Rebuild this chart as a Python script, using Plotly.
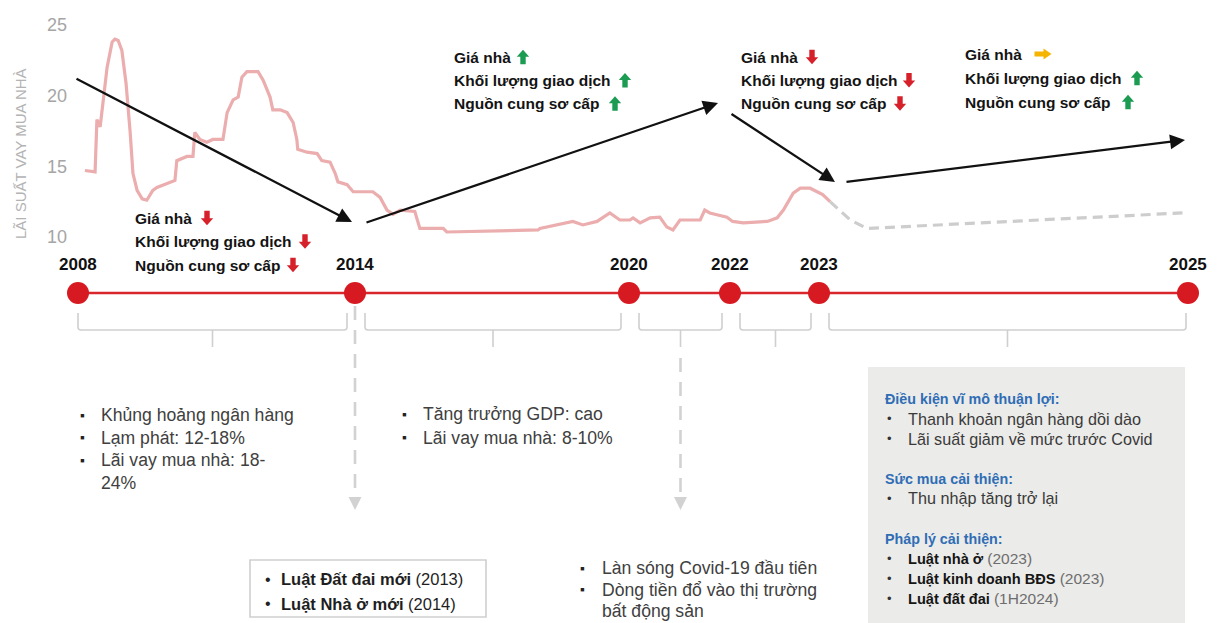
import numpy as np
import plotly.graph_objects as go

# ---------------------------------------------------------------- data
# milestone years on the timeline
YEARS = [2008, 2014, 2020, 2022, 2023, 2025]

# mortgage lending rate (%), history
RATE_YEARS = [
    2008.15, 2008.37, 2008.41, 2008.48, 2008.63, 2008.74, 2008.80, 2008.87, 2008.95,
    2009.04, 2009.13, 2009.19, 2009.28, 2009.39, 2009.49, 2009.62, 2009.71, 2009.93,
    2010.10, 2010.14, 2010.36, 2010.49, 2010.53, 2010.64, 2010.79, 2010.92,
    2011.14, 2011.23, 2011.36, 2011.47, 2011.55, 2011.66, 2011.90,
    2012.01, 2012.16, 2012.22, 2012.38, 2012.53, 2012.66, 2012.74, 2012.76, 2012.96,
    2013.18, 2013.28, 2013.46, 2013.57, 2013.63, 2013.83, 2013.96,
    2014.39, 2014.55, 2014.70, 2014.83, 2014.99, 2015.31, 2015.42, 2015.93, 2016.01,
    2017.00, 2018.01, 2018.05, 2018.64, 2018.77, 2018.99, 2019.30, 2019.58, 2019.80,
    2020.02, 2020.08, 2020.22, 2020.42, 2020.61, 2020.75, 2020.87,
    2021.01, 2021.41, 2021.50, 2021.60, 2021.94,
    2022.03, 2022.15, 2022.42, 2022.53, 2022.60, 2022.71, 2022.79, 2022.90,
    2023.02, 2023.06,
]
RATE_VALUES = [
    14.7, 14.6, 18.3, 17.8, 22.0, 23.8, 24.0, 23.9, 23.2,
    20.9, 17.4, 14.5, 13.3, 12.7, 12.6, 13.3, 13.5, 13.8,
    14.0, 15.4, 15.7, 15.7, 17.4, 16.9, 16.7, 16.9,
    16.9, 18.8, 19.7, 19.9, 21.3, 21.7, 21.7,
    21.1, 19.9, 19.0, 19.0, 18.8, 18.1, 16.9, 16.2, 16.0,
    15.9, 15.4, 15.3, 14.5, 13.9, 13.7, 13.2,
    13.2, 12.8, 11.9, 11.6, 11.9, 11.8, 10.6, 10.6, 10.35,
    10.4, 10.5, 10.6, 11.0, 11.1, 10.85, 11.1, 11.7, 11.2,
    11.2, 11.35, 11.0, 11.35, 11.4, 10.7, 10.5,
    11.2, 11.2, 11.9, 11.7, 11.4,
    11.1, 11.0, 11.1, 11.35, 11.9, 13.1, 13.45, 13.45,
    13.0, 12.5,
]

# mortgage lending rate (%), outlook
OUTLOOK_YEARS = [2023.06, 2023.17, 2023.26, 2023.98, 2024.97]
OUTLOOK_VALUES = [12.5, 11.2, 10.6, 11.05, 11.7]

RATE_TICKS = [10, 15, 20, 25]
RATE_TITLE = "LÃI SUẤT VAY MUA NHÀ"

# market signals for each phase
SIGNAL_LABELS = ["Giá nhà", "Khối lượng giao dịch", "Nguồn cung sơ cấp"]
PHASE_SIGNALS = [
    ["down", "down", "down"],
    ["up", "up", "up"],
    ["down", "down", "down"],
    ["flat", "up", "up"],
]

# notes below the timeline
NOTES_2008 = [["Khủng hoảng ngân hàng"], ["Lạm phát: 12-18%"], ["Lãi vay mua nhà: 18-", "24%"]]
NOTES_2014 = [["Tăng trưởng GDP: cao"], ["Lãi vay mua nhà: 8-10%"]]
LAWS_2014 = [("Luật Đất đai mới", "(2013)"), ("Luật Nhà ở mới", "(2014)")]
NOTES_2020 = [["Làn sóng Covid-19 đầu tiên"], ["Dòng tiền đổ vào thị trường", "bất động sản"]]
OUTLOOK_FACTORS = [
    ("Điều kiện vĩ mô thuận lợi:", [("", "Thanh khoản ngân hàng dồi dào"),
                                   ("", "Lãi suất giảm về mức trước Covid")]),
    ("Sức mua cải thiện:", [("", "Thu nhập tăng trở lại")]),
    ("Pháp lý cải thiện:", [("Luật nhà ở", "(2023)"),
                            ("Luật kinh doanh BĐS", "(2023)"),
                            ("Luật đất đai", "(1H2024)")]),
]

# ---------------------------------------------------------------- layout
W, H = 1219, 623
TIMELINE_X = [78, 355, 629, 730, 819, 1188]   # horizontal scale of the timeline
TIMELINE_ROW = 293
RATE_TOP_ROW, RATE_PX_PER_PT = 25, 14.13      # vertical scale of the rate chart
SANS = "Liberation Sans, Arial, sans-serif"
BODY = "#404040"
RED, GREEN, YELLOW = "#d6202a", "#1c9c52", "#f4b400"
GUIDE = "#d2d2d2"


def tl(years):
    return np.interp(years, YEARS, TIMELINE_X)


fig = go.Figure()
annotations = []
shapes = []


def text(x, y, s, size=17.6, color=BODY, family=SANS, anchor="left", angle=0):
    annotations.append(dict(x=x, y=y, xref="x", yref="y2", text=s, showarrow=False,
                            xanchor=anchor, yanchor="middle", textangle=angle,
                            font=dict(family=family, size=size, color=color)))


def block_arrow(cx, cy, direction, color):
    if direction == "flat":
        L, hl, hw, sw = 17, 8, 5.5, 2.6
        x0 = cx - L / 2
        pts = [(x0, cy - sw), (x0 + L - hl, cy - sw), (x0 + L - hl, cy - hw), (x0 + L, cy),
               (x0 + L - hl, cy + hw), (x0 + L - hl, cy + sw), (x0, cy + sw)]
    else:
        L, hl, hw, sw = 14.5, 7, 6.2, 2.7
        s = 1 if direction == "down" else -1
        y0 = cy - s * L / 2
        pts = [(cx - sw, y0), (cx + sw, y0), (cx + sw, y0 + s * (L - hl)), (cx + hw, y0 + s * (L - hl)),
               (cx, y0 + s * L), (cx - hw, y0 + s * (L - hl)), (cx - sw, y0 + s * (L - hl))]
    path = "M " + " L ".join(f"{px:.1f},{py:.1f}" for px, py in pts) + " Z"
    shapes.append(dict(type="path", path=path, xref="x", yref="y2",
                       fillcolor=color, line=dict(width=0)))


# rate history and outlook
fig.add_trace(go.Scatter(x=tl(RATE_YEARS), y=RATE_VALUES, mode="lines",
                         line=dict(color="#ebadad", width=3.2), xaxis="x", yaxis="y",
                         hoverinfo="skip", showlegend=False))
fig.add_trace(go.Scatter(x=tl(OUTLOOK_YEARS), y=OUTLOOK_VALUES, mode="lines",
                         line=dict(color="#cdcdcd", width=3.2, dash="10px,6px"),
                         xaxis="x", yaxis="y", hoverinfo="skip", showlegend=False))

# timeline
fig.add_trace(go.Scatter(x=tl(YEARS), y=[TIMELINE_ROW] * len(YEARS), mode="lines+markers",
                         line=dict(color="#d9262d", width=2.4),
                         marker=dict(size=22, color="#d71a21"),
                         xaxis="x", yaxis="y2", hoverinfo="skip", showlegend=False))
for yr, x in zip(YEARS, tl(YEARS)):
    text(x, 264, f"<b>{yr}</b>", size=17, color="#111111", anchor="center")

# brackets under each period
centers = []
xs = tl(YEARS)
for i in range(len(YEARS) - 1):
    a = xs[i] + (0 if i == 0 else 10)
    b = xs[i + 1] - (2 if i == len(YEARS) - 2 else 8)
    c = (a + b) / 2
    centers.append(c)
    shapes.append(dict(type="path", xref="x", yref="y2",
                       path=f"M {a:.1f},313 L {a:.1f},327 Q {a:.1f},330 {a+3:.1f},330 "
                            f"L {b-3:.1f},330 Q {b:.1f},330 {b:.1f},327 L {b:.1f},313 "
                            f"M {c:.1f},330 L {c:.1f},347",
                       line=dict(color="#cfcfcf", width=1.6)))

# dashed guides pointing to the law box and covid notes
for gx, g0 in [(xs[1], 306), (centers[2], 358)]:
    shapes.append(dict(type="line", xref="x", yref="y2", x0=gx, x1=gx, y0=g0, y1=498,
                       line=dict(color=GUIDE, width=2.6, dash="14px,10px")))
    shapes.append(dict(type="path", xref="x", yref="y2",
                       path=f"M {gx-6.5:.1f},497 L {gx+6.5:.1f},497 L {gx:.1f},510 Z",
                       fillcolor=GUIDE, line=dict(width=0)))

# rate axis title
text(20, 154, RATE_TITLE, size=15, color="#b3b3b3", anchor="center", angle=-90)

# market signals above the chart
SIGNAL_POS = [(133, 218, 23.5), (452, 57, 23.3), (739, 57, 23.3), (963, 54, 24)]
ARROW_X = [[207, 305, 293], [523, 625, 615], [812, 909, 900], [1043, 1137, 1128]]
ARROW_COLOR = {"down": RED, "up": GREEN, "flat": YELLOW}
for (x0, y0, dy), dirs, axs in zip(SIGNAL_POS, PHASE_SIGNALS, ARROW_X):
    for k, (label, d) in enumerate(zip(SIGNAL_LABELS, dirs)):
        text(x0, y0 + k * dy, f"<b>{label}</b>", size=15.5, color="#141414")
        block_arrow(axs[k], y0 + k * dy, d, ARROW_COLOR[d])

# trend arrows
for (sx, sy), (ex, ey) in [((75, 78), (352, 222)), ((365, 223), (718, 103)),
                           ((730, 113), (835, 182)), ((845, 182), (1185, 140))]:
    annotations.append(dict(x=ex, y=ey, ax=sx, ay=sy, xref="x", yref="y2", axref="x", ayref="y2",
                            text="", showarrow=True, arrowhead=2, arrowsize=1.3, arrowwidth=2.3,
                            arrowcolor="#111111", standoff=0, startstandoff=0))


def bullets(items, bx, tx, y0, dy, mark="▪", size=17.6):
    y = y0
    for item in items:
        text(bx, y, mark, size=size - 4, color="#222222")
        for line in item:
            text(tx, y, line, size=size)
            y += dy
    return y


bullets(NOTES_2008, 78, 99, 415, 22.5)
bullets(NOTES_2014, 400, 421, 414, 23.5)
bullets(NOTES_2020, 578, 600, 568, 21.5)

# law box (2014)
shapes.append(dict(type="rect", xref="x", yref="y2", x0=250, x1=486, y0=560, y1=617,
                   line=dict(color="#cfcfcf", width=1.6), fillcolor="white"))
for k, (bold, rest) in enumerate(LAWS_2014):
    text(263, 579 + k * 24.5, "•", size=16, color="#222222")
    text(279, 579 + k * 24.5, f"<b>{bold}</b> {rest}", size=16.5, color="#1e1e1e")

# outlook factors box
shapes.append(dict(type="rect", xref="x", yref="y2", x0=868, x1=1185, y0=367, y1=640,
                   line=dict(width=0), fillcolor="#ebebe9", layer="below"))
y = 399
for header, items in OUTLOOK_FACTORS:
    text(883, y, f"<b>{header}</b>", size=14.3, color="#2f6db5")
    y += 19.5
    for bold, rest in items:
        text(885, y, "•", size=13, color="#333333")
        if bold:
            label = f"<b>{bold}</b> <span style='color:#6e6e6e;font-size:15.5px'>{rest}</span>"
            text(906, y, label, size=14.6, color="#151515")
        else:
            text(906, y, rest, size=16.2, color="#3a3a3a")
        y += 20.2
    y += 20

# rate axis spans the full height so rows and rate values share one vertical scale
rate_lo = RATE_TICKS[-1] - (H - RATE_TOP_ROW) / RATE_PX_PER_PT
rate_hi = RATE_TICKS[-1] + RATE_TOP_ROW / RATE_PX_PER_PT

fig.update_layout(
    width=W, height=H, margin=dict(l=0, r=0, t=0, b=0),
    paper_bgcolor="white", plot_bgcolor="rgba(0,0,0,0)",
    showlegend=False,
    xaxis=dict(range=[0, W], domain=[0, 1], visible=False, fixedrange=True),
    yaxis=dict(range=[rate_lo, rate_hi], domain=[0, 1], anchor="free", position=67 / W,
               tickvals=RATE_TICKS, showgrid=False, zeroline=False, showline=False, ticks="",
               tickfont=dict(family=SANS, size=18, color="#a5a5a5"),
               fixedrange=True),
    yaxis2=dict(range=[H, 0], domain=[0, 1], anchor="x", visible=False, fixedrange=True),
    annotations=annotations,
    shapes=shapes,
)

fig.write_html("out.html")
